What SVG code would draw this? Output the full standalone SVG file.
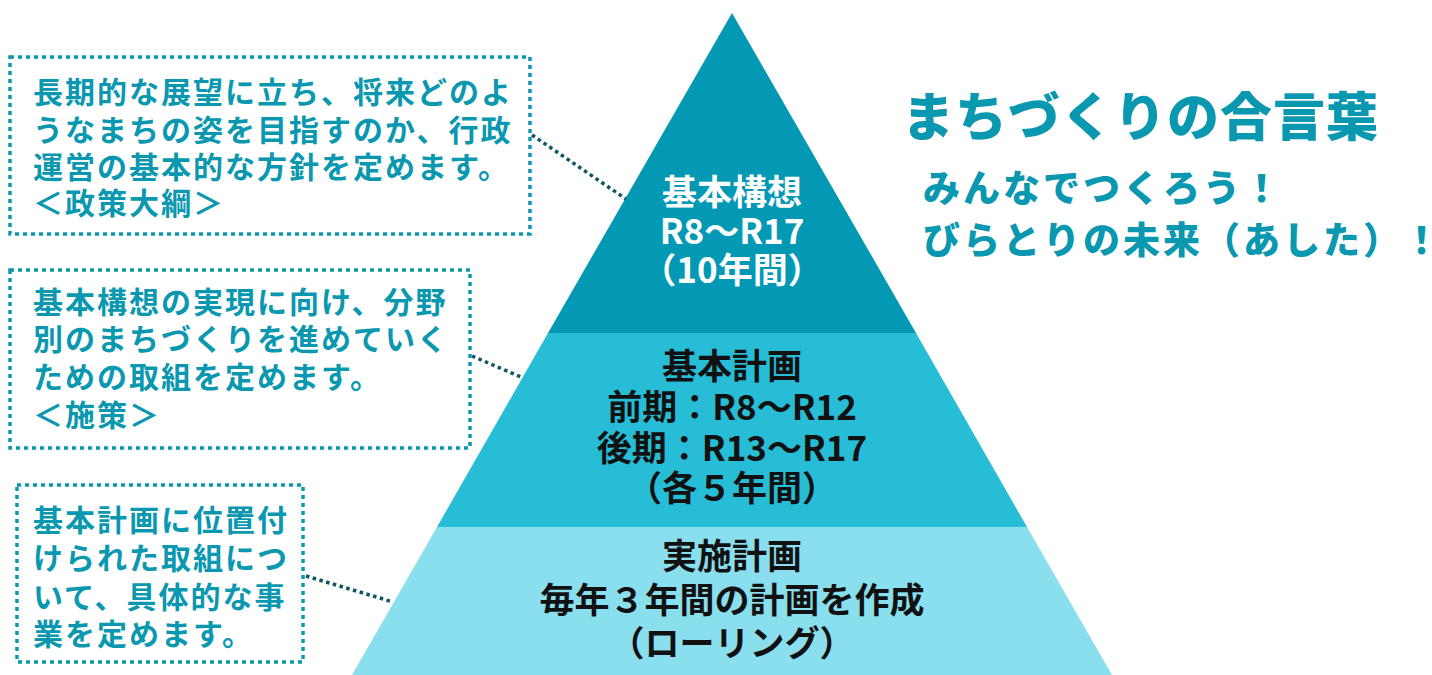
<svg xmlns="http://www.w3.org/2000/svg" width="1432" height="675" viewBox="0 0 1432 675">
<style>
.box{fill:#ffffff;stroke:#0a98b0;stroke-width:3.5;stroke-dasharray:4 4}
.conn{fill:none;stroke:#0d5663;stroke-width:3.5;stroke-dasharray:3.5 3.5}
.bt{font-family:"Noto Sans CJK JP","Noto Sans",sans-serif;font-weight:700;font-size:30px;letter-spacing:2px;fill:#0a98b0}
.pt{font-family:"Noto Sans CJK JP","Noto Sans",sans-serif;font-weight:700;font-size:35px;text-anchor:middle}
.w{fill:#ffffff}
.k{fill:#111111}
.tt{font-family:"Noto Sans CJK JP","Noto Sans",sans-serif;font-weight:900;fill:#0a98b0}
</style>
<rect width="1432" height="675" fill="#ffffff"/>
<g id="pyramid">
<g id="top">
<polygon points="732,13 548,333 916,333" fill="#0399b4"/>
<text class="pt w" x="732" y="205"><tspan x="732">基本構想</tspan><tspan x="732" dy="39">R8～R17</tspan><tspan x="732" dy="39">（10年間）</tspan></text>
</g>
<g id="middle">
<polygon points="548,333 916,333 1027,527 437,527" fill="#27bdd7"/>
<text class="pt k" x="732" y="379"><tspan x="732">基本計画</tspan><tspan x="732" dy="41">前期：R8～R12</tspan><tspan x="732" dy="41">後期：R13～R17</tspan><tspan x="732" dy="40">（各５年間）</tspan></text>
</g>
<g id="bottom">
<polygon points="437,527 1027,527 1112,675 352,675" fill="#89dfee"/>
<text class="pt k" x="732" y="569"><tspan x="732">実施計画</tspan><tspan x="732" dy="44">毎年３年間の計画を作成</tspan><tspan x="732" dy="43">（ローリング）</tspan></text>
</g>
</g>
<g id="connectors">
<line class="conn" x1="532" y1="135" x2="626" y2="199"/>
<line class="conn" x1="472" y1="356" x2="521" y2="377"/>
<line class="conn" x1="306" y1="576" x2="393" y2="602"/>
</g>
<g id="box1">
<rect class="box" x="10" y="57" width="520" height="177"/>
<text class="bt" x="33" y="103"><tspan x="33">長期的な展望に立ち、将来どのよ</tspan><tspan x="33" dy="38">うなまちの姿を目指すのか、行政</tspan><tspan x="33" dy="37">運営の基本的な方針を定めます。</tspan><tspan x="33" dy="36">＜政策大綱＞</tspan></text>
</g>
<g id="box2">
<rect class="box" x="10" y="270" width="460" height="178"/>
<text class="bt" x="33" y="313"><tspan x="33">基本構想の実現に向け、分野</tspan><tspan x="33" dy="37">別のまちづくりを進めていく</tspan><tspan x="33" dy="38">ための取組を定めます。</tspan><tspan x="33" dy="38">＜施策＞</tspan></text>
</g>
<g id="box3">
<rect class="box" x="17" y="485" width="286" height="177"/>
<text class="bt" x="33" y="531"><tspan x="33">基本計画に位置付</tspan><tspan x="33" dy="38">けられた取組につ</tspan><tspan x="33" dy="39">いて、具体的な事</tspan><tspan x="33" dy="37">業を定めます。</tspan></text>
</g>
<g id="slogan">
<text class="tt" x="902" y="136" font-size="52" letter-spacing="1">まちづくりの合言葉</text>
<text class="tt" x="923" y="202" font-size="37" letter-spacing="3"><tspan x="923">みんなでつくろう！</tspan><tspan x="923" dy="52">びらとりの未来（あした）！</tspan></text>
</g>
</svg>
